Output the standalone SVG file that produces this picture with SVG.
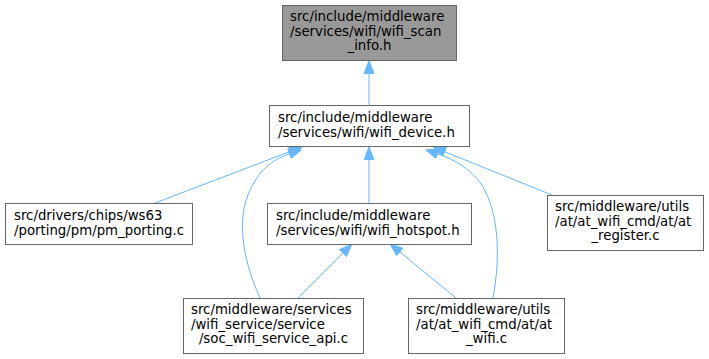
<svg xmlns="http://www.w3.org/2000/svg" width="709" height="359" viewBox="0 0 709 359">
<style>
.n rect{fill:#ffffff;stroke:#666666;stroke-width:1}
.root rect{fill:#999999}
text{font-family:"DejaVu Sans","Liberation Sans",sans-serif;font-size:13.3px;fill:#000000}
.m{text-anchor:middle}
.e path{fill:none;stroke:#63b8ff;stroke-width:1;marker-end:url(#ah)}
</style>
<defs>
<marker id="ah" markerUnits="userSpaceOnUse" viewBox="0 0 13 10" refX="0" refY="5" markerWidth="13" markerHeight="10" orient="auto">
<path d="M0,0 L13,5 L0,10 z" fill="#63b8ff" stroke="#63b8ff" stroke-width="1"/>
</marker>
</defs>
<g id="edges" class="e">
<path d="M369,105 V73.5"/>
<path d="M155,203 L289.9,151.6"/>
<path d="M260,298 C245,265 236,225 248,195 C258,170 272,160 289,154"/>
<path d="M369,203 V160"/>
<path d="M493,298 C500,260 500,215 482,185 C470,168 455,160 438,154"/>
<path d="M552,195 L445.1,151.9"/>
<path d="M298,298 L342.8,253.2"/>
<path d="M456,298 L400.1,252.2"/>
</g>
<g id="wifi_scan_info" class="n root">
<rect x="282.5" y="5.5" width="174" height="55"/>
<text x="290" y="21">src/include/middleware</text>
<text x="290" y="35.5">/services/wifi/wifi_scan</text>
<text x="369.5" y="50" class="m">_info.h</text>
</g>
<g id="wifi_device" class="n">
<rect x="269.5" y="105.5" width="200" height="41"/>
<text x="278" y="122">src/include/middleware</text>
<text x="278" y="137">/services/wifi/wifi_device.h</text>
</g>
<g id="pm_porting" class="n">
<rect x="5.5" y="203.5" width="187" height="41"/>
<text x="14" y="220">src/drivers/chips/ws63</text>
<text x="14" y="235">/porting/pm/pm_porting.c</text>
</g>
<g id="wifi_hotspot" class="n">
<rect x="267.5" y="203.5" width="204" height="41"/>
<text x="276" y="220">src/include/middleware</text>
<text x="276" y="235">/services/wifi/wifi_hotspot.h</text>
</g>
<g id="at_register" class="n">
<rect x="547.5" y="195.5" width="156" height="55"/>
<text x="555" y="211">src/middleware/utils</text>
<text x="555" y="225.5">/at/at_wifi_cmd/at/at</text>
<text x="625.5" y="240" class="m">_register.c</text>
</g>
<g id="soc_wifi_service_api" class="n">
<rect x="183.5" y="298.5" width="180" height="55"/>
<text x="191" y="314">src/middleware/services</text>
<text x="191" y="328.5">/wifi_service/service</text>
<text x="273.5" y="343" class="m">/soc_wifi_service_api.c</text>
</g>
<g id="at_wifi" class="n">
<rect x="408.5" y="298.5" width="156" height="55"/>
<text x="416" y="314">src/middleware/utils</text>
<text x="416" y="328.5">/at/at_wifi_cmd/at/at</text>
<text x="486.5" y="343" class="m">_wifi.c</text>
</g>
</svg>
